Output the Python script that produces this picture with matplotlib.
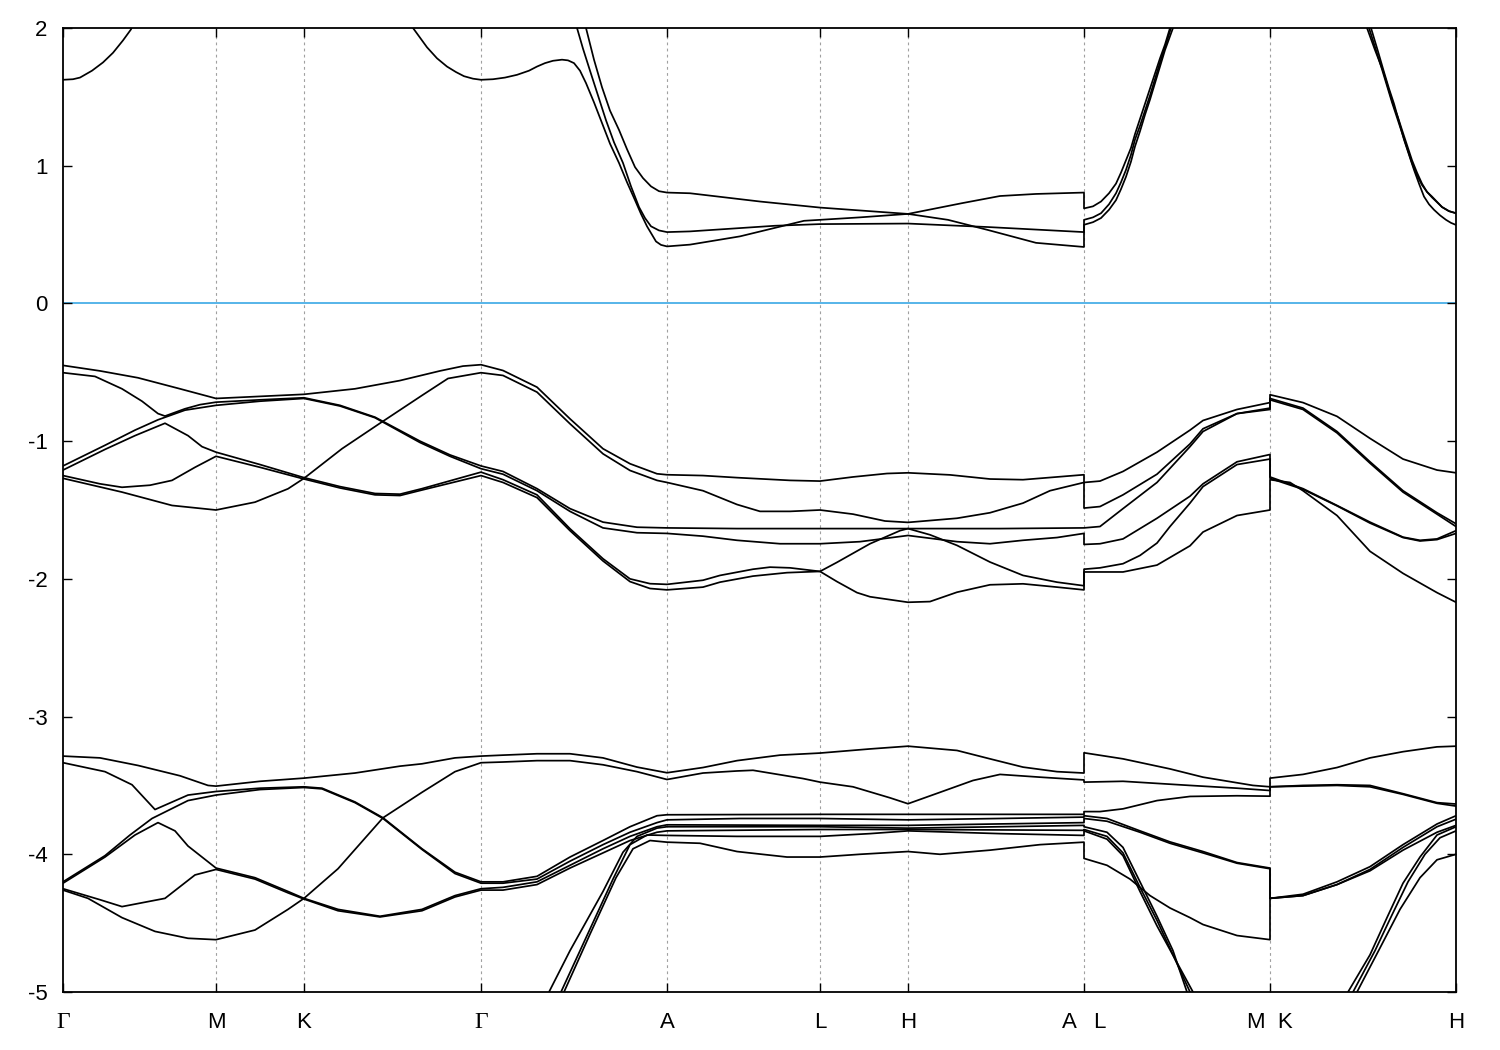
import numpy as np
import matplotlib
matplotlib.use("Agg")
import matplotlib.pyplot as plt

plt.rcParams['font.family'] = ['Liberation Sans', 'DejaVu Sans']
plt.rcParams['axes.unicode_minus'] = False

# ---------------- data ----------------
# k-path distance (arbitrary units) of the high-symmetry points
NODE_K = [0, 153, 241, 418, 604, 757, 845, 1021, 1207, 1393]
NODE_LABELS = ['Γ', 'M', 'K', 'Γ', 'A', 'L', 'H', 'A   L', 'M  K', 'H']
E_TICKS = [-5, -4, -3, -2, -1, 0, 1, 2]
E_RANGE = (-5, 2)
FERMI = 0.0
GAP = (np.nan, np.nan)   # band leaves the energy window

# conduction bands (k, E[eV])
COND_1 = [(0, 1.624), (10, 1.628), (17, 1.64), (29, 1.69), (40, 1.75), (50, 1.82), (60, 1.91), (68, 1.99),
          (70, 2.03), GAP,
          (348, 2.03), (350, 2.0), (357, 1.93), (364, 1.86), (374, 1.78), (384, 1.72), (393, 1.68), (401, 1.65),
          (410, 1.632), (418, 1.624), (430, 1.628),
          (442, 1.64), (454, 1.66), (466, 1.69), (474, 1.72), (482, 1.745), (490, 1.762), (499, 1.77),
          (505, 1.765), (511, 1.745), (517, 1.69), (523, 1.60), (531, 1.46), (539, 1.31), (547, 1.16),
          (556, 1.02), (564, 0.88), (572, 0.75), (578, 0.65), (584, 0.56), (593, 0.45), (598, 0.425), (604, 0.414),
          (627, 0.427), (677, 0.487), (741, 0.60), (757, 0.607), (797, 0.625), (845, 0.65), (899, 0.728),
          (937, 0.78), (973, 0.795), (1021, 0.805),
          (1021, 0.69), (1030, 0.705), (1038, 0.74), (1046, 0.80), (1053, 0.87), (1058, 0.95), (1063, 1.04),
          (1068, 1.13), (1072, 1.23), (1077, 1.34), (1082, 1.45), (1087, 1.56), (1092, 1.67), (1097, 1.78),
          (1102, 1.88), (1107, 2.0), (1108, 2.03), GAP,
          (1303, 2.03), (1304, 2.0), (1312, 1.84), (1320, 1.69), (1325, 1.57), (1330, 1.45), (1335, 1.35),
          (1339, 1.26), (1344, 1.15), (1349, 1.04), (1354, 0.95), (1359, 0.87), (1364, 0.81), (1369, 0.776),
          (1379, 0.70), (1386, 0.67), (1393, 0.655)]
COND_2 = [(513, 2.03), (514, 2.0), (520, 1.85), (527, 1.69), (535, 1.51), (543, 1.33), (551, 1.17), (560, 1.02),
          (568, 0.85), (576, 0.70), (582, 0.62), (588, 0.56), (596, 0.53), (604, 0.518),
          (627, 0.523), (712, 0.564), (757, 0.576), (845, 0.58), (924, 0.555), (1021, 0.518),
          (1021, 0.607), (1030, 0.625), (1038, 0.655), (1046, 0.72), (1053, 0.80), (1058, 0.88), (1063, 0.97),
          (1068, 1.08), (1072, 1.19), (1077, 1.29), (1082, 1.40), (1087, 1.51), (1092, 1.63), (1097, 1.75),
          (1102, 1.86), (1108, 2.0), (1109, 2.03), GAP,
          (1307, 2.03), (1308, 2.0), (1315, 1.83), (1321, 1.68), (1326, 1.56), (1331, 1.45), (1336, 1.32),
          (1341, 1.19), (1346, 1.08), (1351, 0.97), (1356, 0.87), (1361, 0.776), (1366, 0.72),
          (1371, 0.68), (1377, 0.64), (1383, 0.607), (1388, 0.585), (1393, 0.57)]
COND_3 = [(522, 2.03), (523, 2.0), (531, 1.77), (539, 1.57), (547, 1.40), (556, 1.26), (564, 1.12), (572, 0.99),
          (580, 0.91), (588, 0.85), (596, 0.815), (604, 0.805),
          (627, 0.80), (697, 0.74), (757, 0.696), (845, 0.65), (885, 0.607), (924, 0.535), (973, 0.44), (1021, 0.41),
          (1021, 0.571), (1030, 0.59), (1038, 0.62), (1046, 0.68), (1053, 0.75), (1058, 0.83), (1063, 0.92),
          (1068, 1.03), (1072, 1.14), (1077, 1.25), (1082, 1.37), (1087, 1.48), (1092, 1.60), (1097, 1.72),
          (1102, 1.84), (1110, 2.0), (1111, 2.03), GAP,
          (1305, 2.03), (1306, 2.0), (1313, 1.84), (1319, 1.70), (1324, 1.58), (1329, 1.46), (1334, 1.35),
          (1339, 1.24), (1344, 1.13), (1349, 1.02), (1354, 0.93), (1359, 0.86), (1364, 0.81),
          (1369, 0.77), (1379, 0.70), (1386, 0.67), (1393, 0.655)]

# upper valence manifold
VAL_A = [(0, -0.45), (37, -0.49), (75, -0.54), (117, -0.62), (153, -0.69), (197, -0.675), (241, -0.66),
         (292, -0.62), (337, -0.56), (377, -0.49), (400, -0.455), (418, -0.445),
         (440, -0.487), (474, -0.608), (507, -0.838), (540, -1.055), (567, -1.164), (594, -1.237), (604, -1.244),
         (640, -1.25), (674, -1.265), (727, -1.285), (757, -1.29), (790, -1.26), (824, -1.235), (845, -1.23),
         (887, -1.245), (927, -1.275), (960, -1.28), (994, -1.26), (1021, -1.244),
         (1021, -1.30), (1037, -1.29), (1060, -1.22), (1094, -1.08), (1127, -0.92), (1140, -0.85), (1174, -0.77),
         (1207, -0.72),
         (1207, -0.663), (1240, -0.72), (1274, -0.82), (1307, -0.98), (1340, -1.13), (1374, -1.21), (1393, -1.23)]
VAL_B = [(0, -0.503), (32, -0.53), (59, -0.62), (79, -0.71), (95, -0.80), (102, -0.818), (122, -0.765),
         (137, -0.735), (153, -0.717), (197, -0.70), (241, -0.685), (277, -0.74), (312, -0.826), (357, -1.0),
         (387, -1.10), (418, -1.18),
         (440, -1.22), (474, -1.345), (507, -1.49), (540, -1.588), (574, -1.625), (604, -1.63),
         (674, -1.635), (757, -1.635), (845, -1.635), (937, -1.635), (1021, -1.63),
         (1037, -1.62), (1060, -1.49), (1094, -1.30), (1127, -1.04), (1140, -0.93), (1174, -0.80), (1207, -0.77),
         (1207, -0.69), (1240, -0.76), (1274, -0.93), (1307, -1.15), (1340, -1.36), (1374, -1.52), (1393, -1.60)]
VAL_C = [(0, -1.18), (42, -1.03), (72, -0.92), (95, -0.845), (122, -0.775), (153, -0.74), (197, -0.71),
         (241, -0.69), (277, -0.745), (312, -0.83), (357, -1.01), (387, -1.11), (418, -1.20),
         (440, -1.24), (474, -1.36), (507, -1.51), (540, -1.63), (574, -1.665), (604, -1.67),
         (640, -1.69), (674, -1.72), (717, -1.745), (757, -1.745), (797, -1.73), (845, -1.685), (894, -1.73),
         (927, -1.745), (960, -1.72), (994, -1.70), (1021, -1.67),
         (1021, -1.75), (1037, -1.745), (1060, -1.71), (1094, -1.56), (1127, -1.40), (1140, -1.31), (1174, -1.15),
         (1207, -1.097),
         (1207, -1.26), (1240, -1.345), (1274, -1.467), (1307, -1.588), (1340, -1.697), (1357, -1.72),
         (1374, -1.71), (1393, -1.65)]
VAL_D = [(0, -1.21), (42, -1.06), (72, -0.96), (102, -0.87), (125, -0.96), (139, -1.04), (153, -1.08),
         (197, -1.17), (241, -1.265), (277, -1.33), (312, -1.38), (337, -1.385), (359, -1.345), (418, -1.225),
         (440, -1.28), (474, -1.39), (507, -1.636), (540, -1.854), (567, -2.0), (587, -2.035), (604, -2.04),
         (640, -2.01), (657, -1.975), (690, -1.93), (707, -1.915), (727, -1.92), (757, -1.946), (774, -1.88),
         (807, -1.745), (837, -1.65), (845, -1.635),
         (867, -1.68), (894, -1.757), (927, -1.878), (960, -1.975), (994, -2.024), (1021, -2.05),
         (1021, -1.93), (1037, -1.92), (1060, -1.89), (1077, -1.83), (1094, -1.74), (1107, -1.62), (1127, -1.45),
         (1140, -1.33), (1174, -1.17), (1207, -1.13),
         (1207, -1.27), (1240, -1.35), (1274, -1.47), (1307, -1.595), (1340, -1.70), (1357, -1.725),
         (1374, -1.715), (1393, -1.67)]
VAL_F = [(0, -1.25), (37, -1.31), (59, -1.335), (87, -1.32), (109, -1.285), (132, -1.19), (153, -1.11),
         (197, -1.19), (241, -1.275), (277, -1.34), (312, -1.39), (337, -1.395), (359, -1.355), (418, -1.25),
         (440, -1.30), (474, -1.41), (507, -1.65), (540, -1.87), (567, -2.02), (587, -2.07), (604, -2.08),
         (640, -2.06), (657, -2.024), (690, -1.98), (724, -1.955), (757, -1.946), (774, -2.02), (794, -2.10),
         (807, -2.13), (845, -2.17),
         (867, -2.165), (894, -2.097), (927, -2.043), (960, -2.036), (994, -2.06), (1021, -2.08),
         (1021, -1.95), (1037, -1.95), (1060, -1.95), (1094, -1.90), (1127, -1.76), (1140, -1.66), (1174, -1.54),
         (1207, -1.50),
         (1207, -1.28), (1227, -1.30), (1240, -1.36), (1274, -1.54), (1307, -1.80), (1340, -1.96), (1374, -2.10),
         (1393, -2.17)]
VAL_G = [(0, -1.27), (59, -1.37), (109, -1.467), (153, -1.50), (192, -1.443), (225, -1.346), (241, -1.27),
         (279, -1.055), (317, -0.87), (359, -0.668), (385, -0.545), (418, -0.503),
         (440, -0.523), (474, -0.644), (507, -0.874), (540, -1.092), (567, -1.213), (594, -1.285), (604, -1.30),
         (640, -1.36), (674, -1.46), (697, -1.51), (727, -1.51), (757, -1.50), (790, -1.53), (822, -1.58),
         (845, -1.59),
         (894, -1.56), (927, -1.52), (960, -1.45), (987, -1.36), (1021, -1.30),
         (1021, -1.486), (1037, -1.475), (1060, -1.39), (1094, -1.24), (1127, -1.02), (1140, -0.91),
         (1174, -0.80), (1207, -0.76),
         (1207, -0.70), (1240, -0.77), (1274, -0.94), (1307, -1.16), (1340, -1.37), (1374, -1.53), (1393, -1.62)]

# lower valence manifold
LOW_1 = [(0, -3.287), (37, -3.30), (75, -3.355), (117, -3.43), (145, -3.50), (153, -3.505), (197, -3.47),
         (241, -3.447), (292, -3.41), (337, -3.36), (359, -3.343), (392, -3.30), (418, -3.287),
         (440, -3.28), (474, -3.27), (507, -3.27), (540, -3.30), (574, -3.367), (604, -3.408),
         (640, -3.37), (674, -3.32), (717, -3.28), (757, -3.265), (807, -3.235), (845, -3.215), (894, -3.246),
         (927, -3.307), (960, -3.367), (994, -3.40), (1021, -3.41),
         (1021, -3.263), (1060, -3.307), (1107, -3.38), (1140, -3.44), (1190, -3.50), (1207, -3.51),
         (1207, -3.447), (1240, -3.42), (1274, -3.37), (1307, -3.30), (1340, -3.255), (1374, -3.22),
         (1393, -3.215)]
LOW_2 = [(0, -3.335), (42, -3.40), (69, -3.495), (92, -3.675), (125, -3.57), (153, -3.544), (197, -3.52),
         (241, -3.51), (259, -3.52), (292, -3.62), (320, -3.735), (359, -3.96), (392, -4.13), (418, -4.20),
         (440, -4.20), (474, -4.16), (507, -4.02), (540, -3.90), (567, -3.80), (594, -3.72), (604, -3.713),
         (757, -3.71), (845, -3.71), (1021, -3.71),
         (1021, -3.69), (1037, -3.69), (1060, -3.67), (1094, -3.61), (1127, -3.58), (1174, -3.575), (1207, -3.578),
         (1207, -3.51), (1240, -3.50), (1274, -3.495), (1307, -3.50), (1340, -3.56), (1374, -3.625),
         (1393, -3.635)]
LOW_3 = [(0, -4.26), (25, -4.32), (59, -4.46), (92, -4.56), (125, -4.61), (153, -4.62), (192, -4.55),
         (225, -4.40), (241, -4.32), (275, -4.105), (320, -3.735), (359, -3.55), (392, -3.40), (418, -3.335),
         (440, -3.33), (474, -3.32), (507, -3.32), (540, -3.35), (574, -3.40), (604, -3.457),
         (640, -3.41), (674, -3.395), (690, -3.39), (740, -3.45), (757, -3.476), (790, -3.51), (827, -3.59),
         (845, -3.633),
         (877, -3.55), (910, -3.464), (937, -3.42), (977, -3.44), (1021, -3.46),
         (1021, -3.476), (1060, -3.47), (1127, -3.50), (1174, -3.52), (1207, -3.537),
         (1207, -3.51), (1240, -3.505), (1274, -3.50), (1307, -3.51), (1340, -3.565), (1374, -3.63),
         (1393, -3.65)]
LOW_4 = [(0, -4.20), (42, -4.01), (67, -3.86), (89, -3.74), (125, -3.61), (153, -3.57), (197, -3.53),
         (241, -3.515), (259, -3.525), (292, -3.625), (320, -3.74), (359, -3.965), (392, -4.14), (418, -4.21),
         (440, -4.21), (474, -4.18), (507, -4.05), (540, -3.93), (567, -3.84), (594, -3.77), (604, -3.75),
         (677, -3.74), (757, -3.74), (845, -3.75), (937, -3.74), (1021, -3.73),
         (1021, -3.72), (1044, -3.74), (1077, -3.83), (1107, -3.91), (1140, -3.98), (1174, -4.06), (1207, -4.10),
         (1207, -4.32), (1240, -4.29), (1274, -4.20), (1307, -4.09), (1340, -3.93), (1374, -3.78), (1393, -3.72)]
LOW_5 = [(0, -4.21), (42, -4.02), (72, -3.86), (95, -3.77), (112, -3.83), (125, -3.94), (153, -4.10),
         (192, -4.17), (225, -4.27), (241, -4.32), (275, -4.40), (317, -4.45), (359, -4.40), (392, -4.30),
         (418, -4.25),
         (440, -4.24), (474, -4.20), (507, -4.08), (540, -3.96), (567, -3.87), (594, -3.80), (604, -3.786),
         (757, -3.79), (845, -3.79), (1021, -3.77),
         (1021, -3.74), (1044, -3.76), (1077, -3.84), (1107, -3.92), (1140, -3.99), (1174, -4.065), (1207, -4.105),
         (1207, -4.32), (1240, -4.30), (1274, -4.22), (1307, -4.11), (1340, -3.95), (1374, -3.80), (1393, -3.745)]
LOW_6 = [(0, -4.25), (37, -4.33), (59, -4.38), (102, -4.32), (132, -4.15), (153, -4.11), (192, -4.18),
         (225, -4.28), (241, -4.325), (275, -4.41), (317, -4.455), (359, -4.41), (392, -4.31), (418, -4.26),
         (440, -4.26), (474, -4.22), (507, -4.10), (540, -3.99), (567, -3.90), (594, -3.84), (604, -3.83),
         (757, -3.82), (845, -3.82), (1021, -3.826),
         (1021, -3.82), (1044, -3.87), (1060, -3.99), (1077, -4.24), (1094, -4.48), (1110, -4.73), (1127, -5.0),
         (1129, -5.04), GAP,
         (1288, -5.04), (1290, -5.0), (1312, -4.70), (1329, -4.44), (1345, -4.20), (1362, -4.0), (1377, -3.88),
         (1393, -3.83)]
LOW_S1 = [(484, -5.04), (486, -5.0), (507, -4.70), (540, -4.27), (560, -3.985), (574, -3.87), (594, -3.81),
          (604, -3.80),
          (657, -3.80), (757, -3.80), (845, -3.81), (937, -3.80), (1021, -3.79),
          (1021, -3.80), (1044, -3.84), (1060, -3.95), (1077, -4.20), (1094, -4.45), (1110, -4.70), (1124, -5.0),
          (1126, -5.04), GAP,
          (1283, -5.04), (1285, -5.0), (1307, -4.73), (1324, -4.46), (1340, -4.21), (1357, -4.02), (1374, -3.86),
          (1393, -3.80)]
LOW_S2 = [(496, -5.04), (498, -5.0), (524, -4.59), (550, -4.18), (567, -3.93), (584, -3.86), (604, -3.863),
          (674, -3.87), (757, -3.87), (807, -3.85), (845, -3.83), (937, -3.85), (1021, -3.863),
          (1021, -3.83), (1044, -3.89), (1060, -4.01), (1077, -4.27), (1094, -4.52), (1112, -4.76), (1130, -5.0),
          (1132, -5.04), GAP,
          (1292, -5.04), (1294, -5.0), (1317, -4.68), (1337, -4.40), (1357, -4.17), (1374, -4.04), (1393, -4.0)]
LOW_S3 = [(499, -5.04), (501, -5.0), (527, -4.58), (553, -4.17), (570, -3.96), (587, -3.90), (604, -3.912),
          (637, -3.92), (674, -3.98), (724, -4.02), (757, -4.02), (797, -4.00), (845, -3.98), (877, -4.0),
          (927, -3.97), (977, -3.93), (1021, -3.912),
          (1021, -4.03), (1044, -4.08), (1067, -4.18), (1087, -4.30), (1107, -4.39), (1127, -4.46), (1140, -4.51),
          (1174, -4.59), (1207, -4.62),
          (1207, -4.32), (1240, -4.30), (1274, -4.22), (1307, -4.12), (1340, -3.97), (1374, -3.84), (1393, -3.79)]

BANDS = [COND_1, COND_2, COND_3,
         VAL_A, VAL_B, VAL_C, VAL_D, VAL_F, VAL_G,
         LOW_1, LOW_2, LOW_3, LOW_4, LOW_5, LOW_6, LOW_S1, LOW_S2, LOW_S3]

# ---------------- plot ----------------
fig = plt.figure(figsize=(15, 10.5), dpi=100)
ax = fig.add_axes([63 / 1500, 1 - 992 / 1050, (1456 - 63) / 1500, (992 - 28) / 1050])

for kx in NODE_K[1:-1]:
    ax.axvline(kx, color='#a0a0a0', lw=0.8, ls=(0, (2.5, 3)), zorder=0)

ax.axhline(FERMI, color='#56b4e9', lw=1.4, zorder=1)

for band in BANDS:
    arr = np.array(band, dtype=float)
    ax.plot(arr[:, 0], arr[:, 1], color='black', lw=1.25, solid_joinstyle='round', zorder=2)

ax.set_xlim(NODE_K[0], NODE_K[-1])
ax.set_ylim(*E_RANGE)
ax.set_yticks(E_TICKS)
ax.set_yticklabels([str(t) for t in E_TICKS])
ax.set_xticks(NODE_K)
ax.set_xticklabels(NODE_LABELS)

ax.tick_params(axis='both', direction='in', length=6.5, width=1.0, top=True, right=True,
               labelsize=16)
ax.tick_params(axis='y', pad=11)
ax.tick_params(axis='x', pad=26)
for lab in ax.get_xticklabels():
    lab.set_verticalalignment('baseline')
    if lab.get_text() == 'Γ':
        lab.set_fontfamily(['Liberation Serif', 'DejaVu Serif'])
        lab.set_fontsize(17)
for sp in ax.spines.values():
    sp.set_linewidth(1.3)

fig.savefig('out.png', dpi=100)
